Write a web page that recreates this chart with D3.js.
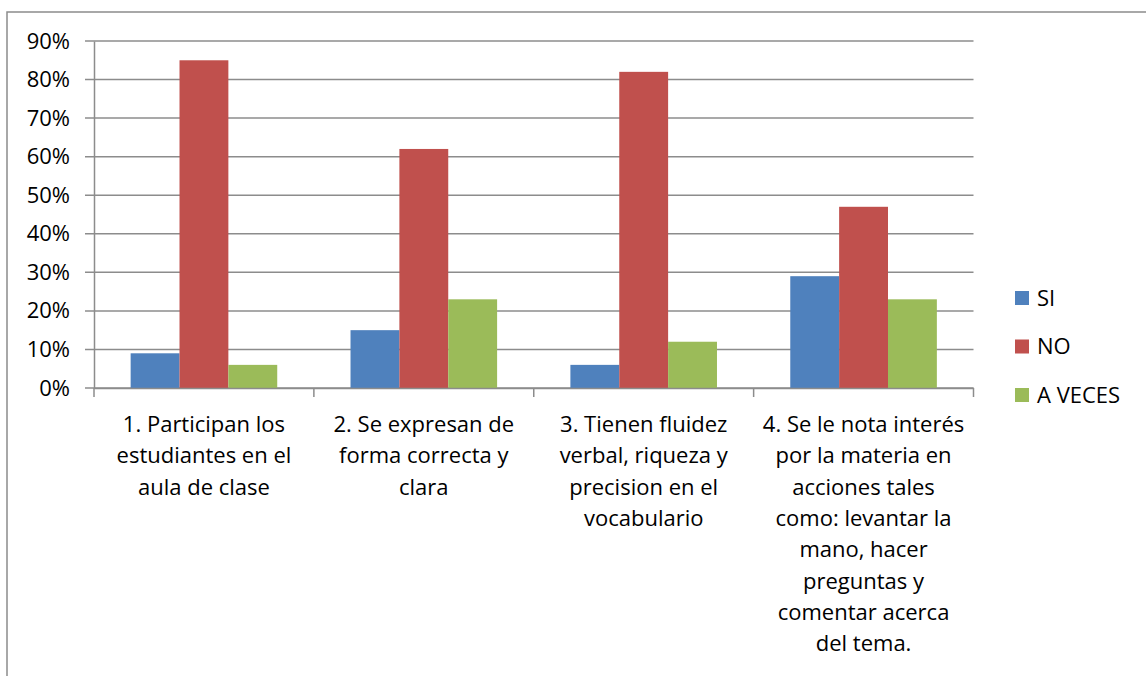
<!DOCTYPE html>
<html><head><meta charset="utf-8">
<script src="https://cdn.jsdelivr.net/npm/d3@7"></script>
<style>html,body{margin:0;padding:0;background:#fff}</style>
</head><body>
<svg id="c" width="1146" height="676"></svg>
<script>
const categories = [
  ["1. Participan los","estudiantes en el","aula de clase"],
  ["2. Se expresan de","forma correcta y","clara"],
  ["3. Tienen fluidez","verbal, riqueza y","precision en el","vocabulario"],
  ["4. Se le nota interés","por la materia en","acciones tales","como: levantar la","mano, hacer","preguntas y","comentar acerca","del tema."]
];
const seriesNames = ["SI","NO","A VECES"];
const siValues = [9,15,6,29];
const noValues = [85,62,82,47];
const aVecesValues = [6,23,12,23];
const yTicks = [0,10,20,30,40,50,60,70,80,90];
const colors = ["#4F81BD","#C0504D","#9BBB59"];
const series = [siValues,noValues,aVecesValues];

const font = "'Open Sans', sans-serif";
const fs = 22;
const svg = d3.select("#c");
const pLeft = 94, pRight = 973.5, pTop = 41, pBottom = 388;

// outer border
svg.append("rect").attr("x",7).attr("y",12).attr("width",1150).attr("height",700)
  .attr("fill","none").attr("stroke","#8c8c8c").attr("stroke-width",1.5);

const idx = categories.map((d,i)=>i);
const x0 = d3.scaleBand().domain(idx).range([pLeft,pRight]).paddingInner(0).paddingOuter(0);
const y = d3.scaleLinear().domain([0,90]).range([pBottom,pTop]);
const bw = x0.bandwidth()/(3+1.5);
const x1 = d3.scaleBand().domain([0,1,2]).range([bw*0.75, bw*0.75+bw*3]);

// gridlines
svg.append("g").selectAll("line").data(yTicks).join("line")
  .attr("x1",pLeft-9).attr("x2",pRight).attr("y1",d=>y(d)).attr("y2",d=>y(d))
  .attr("stroke","#8c8c8c").attr("stroke-width",1.5);

// y axis
const yAxis = d3.axisLeft(y).tickValues(yTicks).tickFormat(d=>d+"%").tickSize(0).tickPadding(24);
const gy = svg.append("g").attr("transform",`translate(${pLeft},0)`).call(yAxis);
gy.select(".domain").attr("stroke","#8c8c8c").attr("stroke-width",1.5);
gy.selectAll("text").attr("font-family",font).attr("font-size",fs).attr("fill","#000");

// bars
const g = svg.append("g");
series.forEach((vals,s)=>{
  g.selectAll(".b"+s).data(vals).join("rect").attr("class","b"+s)
    .attr("x",(d,i)=>x0(i)+x1(s)).attr("width",x1.bandwidth())
    .attr("y",d=>y(d)).attr("height",d=>y(0)-y(d))
    .attr("fill",colors[s]);
});

// x axis
const xAxis = d3.axisBottom(x0).tickSize(0).tickFormat("");
const gx = svg.append("g").attr("transform",`translate(0,${pBottom})`).call(xAxis);
gx.select(".domain").attr("stroke","#8c8c8c").attr("stroke-width",1.5);
gx.selectAll(".tick").remove();
svg.append("g").selectAll("line").data(d3.range(categories.length+1)).join("line")
  .attr("x1",d=>pLeft+d*x0.bandwidth()).attr("x2",d=>pLeft+d*x0.bandwidth())
  .attr("y1",pBottom).attr("y2",pBottom+9).attr("stroke","#8c8c8c").attr("stroke-width",1.5);

// category labels
const lab = svg.append("g");
categories.forEach((lines,i)=>{
  const t = lab.append("text").attr("text-anchor","middle").attr("font-family",font)
    .attr("font-size",fs).attr("fill","#000");
  lines.forEach((l,j)=>{
    t.append("tspan").attr("x",x0(i)+x0.bandwidth()/2).attr("y",432+j*31.3).text(l);
  });
});

// legend
const lg = svg.append("g");
seriesNames.forEach((n,i)=>{
  const cy = 298 + i*48.5;
  lg.append("rect").attr("x",1015).attr("y",cy-7).attr("width",14).attr("height",14).attr("fill",colors[i]);
  lg.append("text").attr("x",1037).attr("y",cy).attr("dy","0.35em").attr("font-family",font)
    .attr("font-size",fs).attr("fill","#000").text(n);
});
</script>
</body></html>
